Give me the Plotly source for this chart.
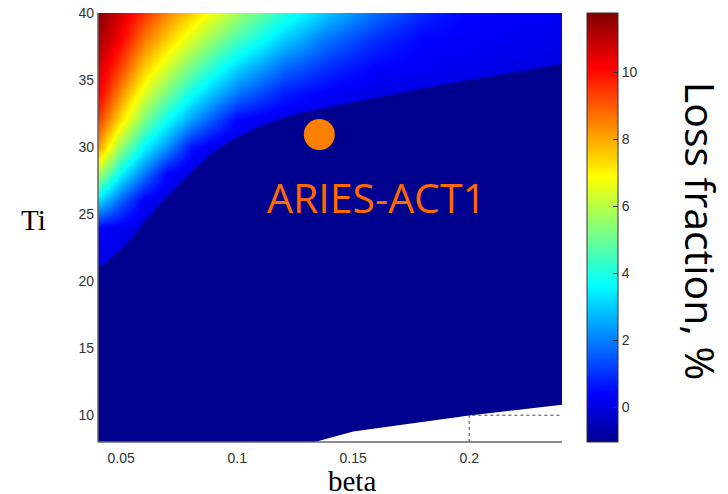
import plotly.graph_objects as go

# ---------------- data ----------------
beta_grid = [0.04, 0.05, 0.06, 0.07, 0.08, 0.09, 0.10, 0.12, 0.14, 0.16, 0.18, 0.20, 0.22, 0.24]
ti_grid = [8, 20, 22, 24, 26, 28, 30, 32, 34, 36, 38, 40]

loss_ti8 = [0, 0, 0, 0, 0, 0, 0, 0, 0, 0, 0, 0, 0, 0]
loss_ti20 = [0, 0, 0, 0, 0, 0, 0, 0, 0, 0, 0, 0, 0, 0]
loss_ti22 = [0.13, 0, 0, 0, 0, 0, 0, 0, 0, 0, 0, 0, 0, 0]
loss_ti24 = [0.4, 0.18, 0, 0, 0, 0, 0, 0, 0, 0, 0, 0, 0, 0]
loss_ti26 = [3.2, 1.56, 0.25, 0, 0, 0, 0, 0, 0, 0, 0, 0, 0, 0]
loss_ti28 = [5.83, 3.52, 1.89, 0.31, 0, 0, 0, 0, 0, 0, 0, 0, 0, 0]
loss_ti30 = [8.18, 5.50, 3.6, 2.18, 0.61, 0.11, 0, 0, 0, 0, 0, 0, 0, 0]
loss_ti32 = [9.38, 7.24, 5.21, 3.66, 2.45, 1.39, 0.4, 0, 0, 0, 0, 0, 0, 0]
loss_ti34 = [10.32, 8.34, 6.50, 5.09, 3.81, 2.82, 1.93, 0.75, 0.27, 0.09, 0, 0, 0, 0]
loss_ti36 = [10.78, 9.30, 7.60, 6.27, 5.15, 4.09, 3.15, 1.75, 0.94, 0.37, 0.27, 0.17, 0.07, 0]
loss_ti38 = [11.24, 10.15, 8.61, 7.45, 6.40, 5.42, 4.54, 2.98, 1.77, 0.94, 0.37, 0.30, 0.22, 0.15]
loss_ti40 = [11.7, 10.66, 9.53, 8.39, 7.53, 6.66, 5.73, 4.09, 2.83, 1.77, 0.86, 0.37, 0.31, 0.25]

loss_fraction = [loss_ti8, loss_ti20, loss_ti22, loss_ti24, loss_ti26, loss_ti28,
                 loss_ti30, loss_ti32, loss_ti34, loss_ti36, loss_ti38, loss_ti40]

# lower edge of the low-loss (clipped, dark) region
floor_beta = [0.04, 0.0428, 0.0485, 0.0542, 0.06, 0.0659, 0.0715, 0.0774, 0.0874, 0.0975, 0.109,
              0.126, 0.14, 0.19, 0.24, 0.24, 0.04]
floor_ti = [21.0, 21.3, 22.15, 23.1, 24.4, 25.6, 26.65, 27.6, 29.3, 30.5, 31.5,
            32.5, 33.0, 34.7, 36.2, 8, 8]

# region without data (white)
nodata_beta = [0.1335, 0.15, 0.2, 0.24, 0.24]
nodata_ti = [8.0, 8.78, 9.97, 10.77, 8.0]

# dotted guide lines
guide_beta = [0.2, 0.2, 0.24]
guide_ti = [8, 10, 10]

# design point
aries_beta = [0.1354]
aries_ti = [30.94]
aries_label = "ARIES-ACT1"
aries_label_beta = 0.1599
aries_label_ti = 26.28

z_min, z_max = -1.03, 11.77
cbar_ticks = [0, 2, 4, 6, 8, 10]
x_ticks = [0.05, 0.1, 0.15, 0.2]
y_ticks = [10, 15, 20, 25, 30, 35, 40]

jet = [[0.0, "rgb(0,0,143)"], [0.111, "rgb(0,0,255)"], [0.365, "rgb(0,255,255)"],
       [0.619, "rgb(255,255,0)"], [0.873, "rgb(255,0,0)"], [1.0, "rgb(128,0,0)"]]

NAVY = "rgb(0,0,143)"
TICKFONT = dict(family="Liberation Sans, Arial, sans-serif", size=14, color="#333333")

fig = go.Figure()

fig.add_trace(go.Heatmap(
    x=beta_grid, y=ti_grid, z=loss_fraction,
    zmin=z_min, zmax=z_max, colorscale=jet, zsmooth="best",
    hoverinfo="skip",
    colorbar=dict(
        x=1.0532, xanchor="left", xpad=0, ypad=0,
        y=0.5, yanchor="middle", len=1, lenmode="fraction",
        thickness=31, thicknessmode="pixels",
        tickvals=cbar_ticks, ticks="inside", ticklen=5, tickcolor="#333333",
        outlinecolor="#333333", outlinewidth=1,
        tickfont=TICKFONT,
    ),
))

fig.add_trace(go.Scatter(
    x=floor_beta, y=floor_ti, mode="lines", fill="toself",
    fillcolor=NAVY, line=dict(width=0, color=NAVY),
    hoverinfo="skip", showlegend=False,
))

fig.add_trace(go.Scatter(
    x=nodata_beta, y=nodata_ti, mode="lines", fill="toself",
    fillcolor="white", line=dict(width=0, color="white"), hoverinfo="skip", showlegend=False,
))

fig.add_trace(go.Scatter(
    x=guide_beta, y=guide_ti, mode="lines",
    line=dict(width=1, color="#444444", dash="dot"), hoverinfo="skip", showlegend=False,
))

fig.add_trace(go.Scatter(
    x=aries_beta, y=aries_ti, mode="markers",
    marker=dict(size=31, color="rgb(255,128,0)", line=dict(width=0)),
    hoverinfo="skip", showlegend=False,
))

fig.add_annotation(
    x=aries_label_beta, y=aries_label_ti, xref="x", yref="y",
    text=aries_label, showarrow=False, xanchor="center", yanchor="middle",
    font=dict(family="Open Sans", size=41, color="rgb(255,105,0)"),
)

fig.add_annotation(
    x=1.300, y=0.4918, xref="paper", yref="paper",
    text="Loss fraction, %", showarrow=False, textangle=90,
    xanchor="center", yanchor="middle",
    font=dict(family="Open Sans", size=41, color="black"),
)

fig.add_annotation(
    x=-0.1394, y=0.5186, xref="paper", yref="paper",
    text="Ti", showarrow=False, xanchor="center", yanchor="middle",
    font=dict(family="Liberation Serif, Times New Roman, serif", size=29, color="black"),
)

fig.add_annotation(
    x=0.547, y=-0.0909, xref="paper", yref="paper",
    text="beta", showarrow=False, xanchor="center", yanchor="middle",
    font=dict(family="Liberation Serif, Times New Roman, serif", size=29, color="black"),
)

axis_common = dict(
    showgrid=False, zeroline=False, showline=False, automargin=False,
    ticks="inside", ticklen=5, tickcolor="#333333", tickwidth=1,
    layer="below traces", tickfont=TICKFONT, ticklabeloverflow="allow",
)

fig.update_xaxes(range=[0.04, 0.24], tickvals=x_ticks, ticklabelstandoff=6, **axis_common)
fig.update_yaxes(range=[8, 40], tickvals=y_ticks, ticklabelstandoff=3, **axis_common)

# axis lines drawn above the image
fig.add_shape(type="line", xref="paper", yref="paper", x0=0, x1=1, y0=0, y1=0,
              line=dict(color="rgb(100,100,100)", width=1.5), layer="above")
fig.add_shape(type="line", xref="paper", yref="paper", x0=0, x1=0, y0=0, y1=1,
              line=dict(color="rgb(100,100,100)", width=1.5), layer="above")

# the page body adds an 8 px margin, so the figure is 8 px smaller than the window
fig.update_layout(
    width=720, height=486,
    margin=dict(l=90, r=166, t=5, b=52, autoexpand=False),
    paper_bgcolor="white", plot_bgcolor="white",
    showlegend=False,
)

fig.write_html("out.html")
